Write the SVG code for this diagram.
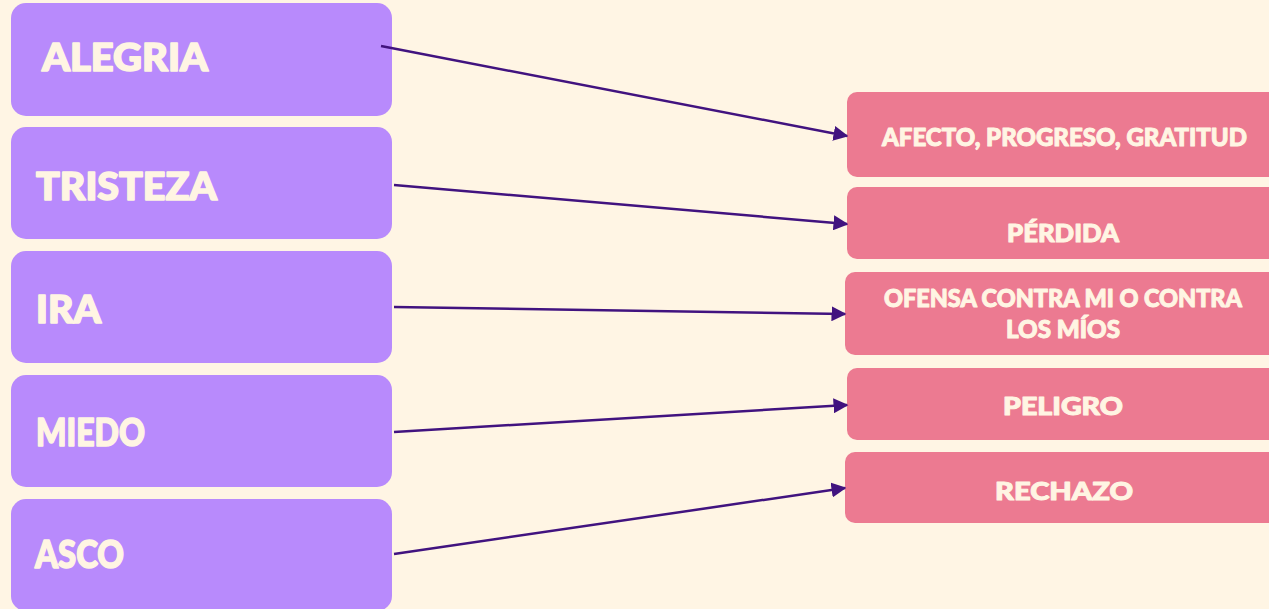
<svg xmlns="http://www.w3.org/2000/svg" width="1269" height="609" viewBox="0 0 1269 609">
<defs>
<style>
.src{fill:#b88afc}
.dst{fill:#ec7a91}
.t{font-family:Lato,"Open Sans","Liberation Sans",sans-serif;font-weight:900;fill:#fff5e3;stroke:#fff5e3;stroke-linejoin:round}
.big{font-size:38px;stroke-width:1.6px}
.sm{font-size:24px;stroke-width:1px}
.c{stroke:#41137f;stroke-width:2.5;fill:none;marker-end:url(#ah)}
</style>
<marker id="ah" viewBox="0 0 10 10" refX="9" refY="5" markerWidth="6" markerHeight="6" markerUnits="strokeWidth" orient="auto">
<path d="M0,0 L10,5 L0,10 z" fill="#41137f"/>
</marker>
</defs>
<rect width="1269" height="609" fill="#fff5e4"/>
<g id="alegria"><rect class="src" x="11" y="3" width="381" height="113" rx="15"/><text class="t big" x="42" y="71" textLength="166" lengthAdjust="spacingAndGlyphs">ALEGRIA</text></g>
<g id="tristeza"><rect class="src" x="11" y="127" width="381" height="112" rx="15"/><text class="t big" x="36" y="200" textLength="181" lengthAdjust="spacingAndGlyphs">TRISTEZA</text></g>
<g id="ira"><rect class="src" x="11" y="251" width="381" height="112" rx="15"/><text class="t big" x="36" y="323" textLength="65" lengthAdjust="spacingAndGlyphs">IRA</text></g>
<g id="miedo"><rect class="src" x="11" y="375" width="381" height="112" rx="15"/><text class="t big" x="36" y="446" textLength="109" lengthAdjust="spacingAndGlyphs">MIEDO</text></g>
<g id="asco"><rect class="src" x="11" y="499" width="381" height="112" rx="15"/><text class="t big" x="35" y="568" textLength="89" lengthAdjust="spacingAndGlyphs">ASCO</text></g>
<g id="afecto"><rect class="dst" x="847" y="92" width="440" height="85" rx="10"/><text class="t sm" x="882" y="146" textLength="365" lengthAdjust="spacingAndGlyphs">AFECTO, PROGRESO, GRATITUD</text></g>
<g id="perdida"><rect class="dst" x="847" y="187" width="440" height="72" rx="10"/><text class="t sm" x="1007" y="242" textLength="112" lengthAdjust="spacingAndGlyphs">PÉRDIDA</text></g>
<g id="ofensa"><rect class="dst" x="845" y="272" width="440" height="83" rx="10"/><text class="t sm" x="884" y="307" textLength="358" lengthAdjust="spacingAndGlyphs">OFENSA CONTRA MI O CONTRA</text><text class="t sm" x="1006" y="338" textLength="114" lengthAdjust="spacingAndGlyphs">LOS MÍOS</text></g>
<g id="peligro"><rect class="dst" x="847" y="368" width="440" height="72" rx="10"/><text class="t sm" x="1003" y="415" textLength="120" lengthAdjust="spacingAndGlyphs">PELIGRO</text></g>
<g id="rechazo"><rect class="dst" x="845" y="452" width="440" height="71" rx="10"/><text class="t sm" x="995" y="500" textLength="138" lengthAdjust="spacingAndGlyphs">RECHAZO</text></g>
<g id="connectors">
<line class="c" x1="381" y1="46" x2="847" y2="136"/>
<line class="c" x1="394" y1="185" x2="847" y2="224"/>
<line class="c" x1="394" y1="307" x2="845" y2="314"/>
<line class="c" x1="394" y1="432" x2="847" y2="405"/>
<line class="c" x1="394" y1="554" x2="845" y2="488"/>
</g>
</svg>
